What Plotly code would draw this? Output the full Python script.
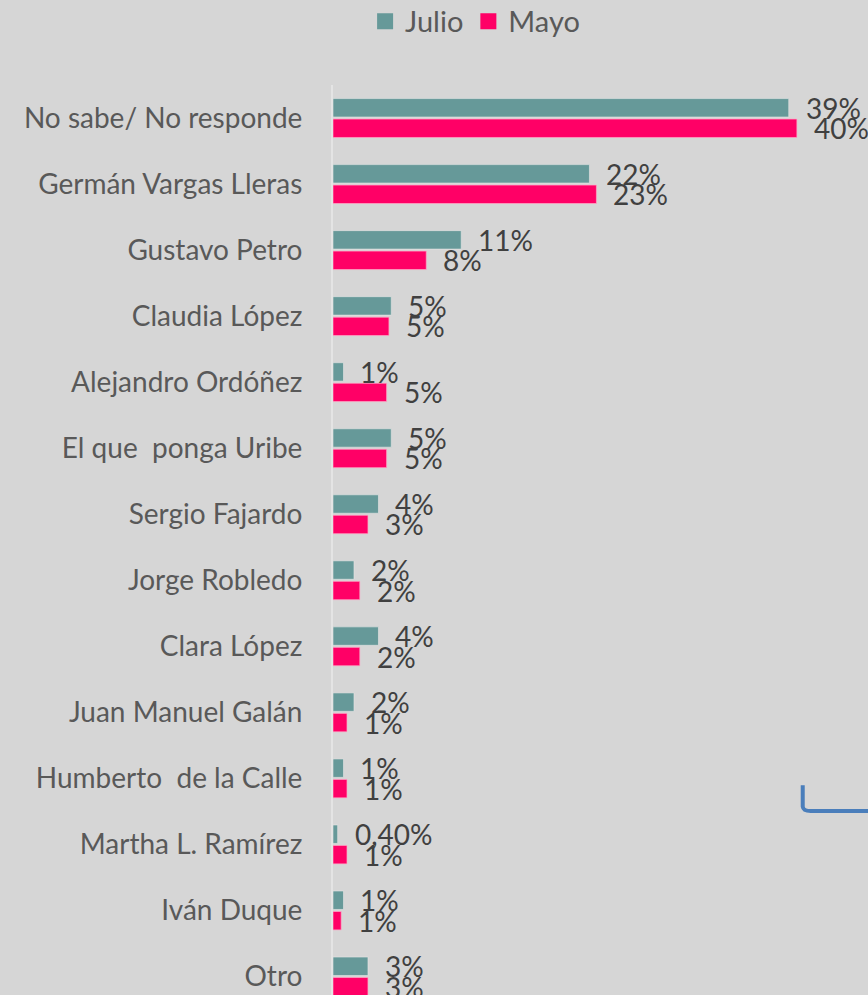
import plotly.graph_objects as go

categories = ["No sabe/ No responde", "Germán Vargas Lleras", "Gustavo Petro",
              "Claudia López", "Alejandro Ordóñez", "El que  ponga Uribe",
              "Sergio Fajardo", "Jorge Robledo", "Clara López",
              "Juan Manuel Galán", "Humberto  de la Calle", "Martha L. Ramírez",
              "Iván Duque", "Otro"]
julio = [39.1, 22.0, 11.0, 5.0, 0.9, 5.0, 3.9, 1.8, 3.9, 1.8, 0.9, 0.4, 0.9, 3.0]
mayo = [39.8, 22.6, 8.0, 4.8, 4.6, 4.6, 3.0, 2.3, 2.3, 1.2, 1.2, 1.2, 0.7, 3.0]
julio_labels = ["39%", "22%", "11%", "5%", "1%", "5%", "4%", "2%", "4%", "2%", "1%", "0,40%", "1%", "3%"]
mayo_labels = ["40%", "23%", "8%", "5%", "5%", "5%", "3%", "2%", "2%", "1%", "1%", "1%", "1%", "3%"]

JULIO_COLOR = "#669999"
MAYO_COLOR = "#ff0066"
BG = "#d6d6d6"
FONT = "Lato"

ypos = list(range(len(categories)))
bargap = 0.38
slot = (1 - bargap) / 2

fig = go.Figure()
fig.add_trace(go.Bar(
    y=ypos, x=julio, orientation="h", name="Julio", showlegend=False,
    marker=dict(color=JULIO_COLOR, line=dict(color="rgba(230,230,230,0.6)", width=1)),
))
fig.add_trace(go.Bar(
    y=ypos, x=mayo, orientation="h", name="Mayo", showlegend=False,
    marker=dict(color=MAYO_COLOR, line=dict(color="rgba(255,170,200,0.7)", width=1)),
))
# legend entries
for nm, col in [("Julio", JULIO_COLOR), ("Mayo", MAYO_COLOR)]:
    fig.add_trace(go.Scatter(
        x=[None], y=[None], mode="markers", name=nm,
        marker=dict(symbol="square", size=16, color=col),
    ))

annotations = []
for i in ypos:
    annotations.append(dict(x=julio[i], y=i - slot / 2, text=julio_labels[i],
                            xref="x", yref="y", showarrow=False, xanchor="left",
                            yanchor="middle", xshift=15,
                            font=dict(family=FONT, size=28, color="#404040")))
    annotations.append(dict(x=mayo[i], y=i + slot / 2, text=mayo_labels[i],
                            xref="x", yref="y", showarrow=False, xanchor="left",
                            yanchor="middle", xshift=15,
                            font=dict(family=FONT, size=28, color="#404040")))

fig.update_layout(
    width=868, height=995,
    margin=dict(l=333, r=0, t=84.5, b=0, pad=0, autoexpand=False),
    paper_bgcolor=BG, plot_bgcolor=BG,
    barmode="group", bargap=bargap, bargroupgap=0.1,
    font=dict(family=FONT, color="#595959"),
    showlegend=True,
    legend=dict(orientation="h", x=0.06, xanchor="left", y=1.098, yanchor="top",
                yref="paper", font=dict(family=FONT, size=29, color="#595959"),
                bgcolor="rgba(0,0,0,0)", itemclick=False),
    annotations=annotations,
    shapes=[dict(type="path", xref="paper", yref="paper",
                 path="M 0.878,0.2306 L 0.878,0.207 Q 0.879,0.2021 0.893,0.2021 L 1.0,0.2021",
                 line=dict(color="#4a7ebb", width=4))],
)
fig.update_xaxes(range=[0, 45.9], showticklabels=False, showgrid=False,
                 zeroline=False, showline=False, fixedrange=True)
fig.update_yaxes(range=[13.28, -0.5], tickmode="array", tickvals=ypos,
                 ticktext=categories, showgrid=False, zeroline=False,
                 showline=True, linecolor="#e4e4e4", linewidth=2,
                 ticks="", ticklabelstandoff=23,
                 tickfont=dict(family=FONT, size=28, color="#595959"),
                 fixedrange=True)

fig.write_html("out.html", config={"displayModeBar": False},
               post_script="document.body.style.margin='0';document.body.style.background='#d6d6d6';")
